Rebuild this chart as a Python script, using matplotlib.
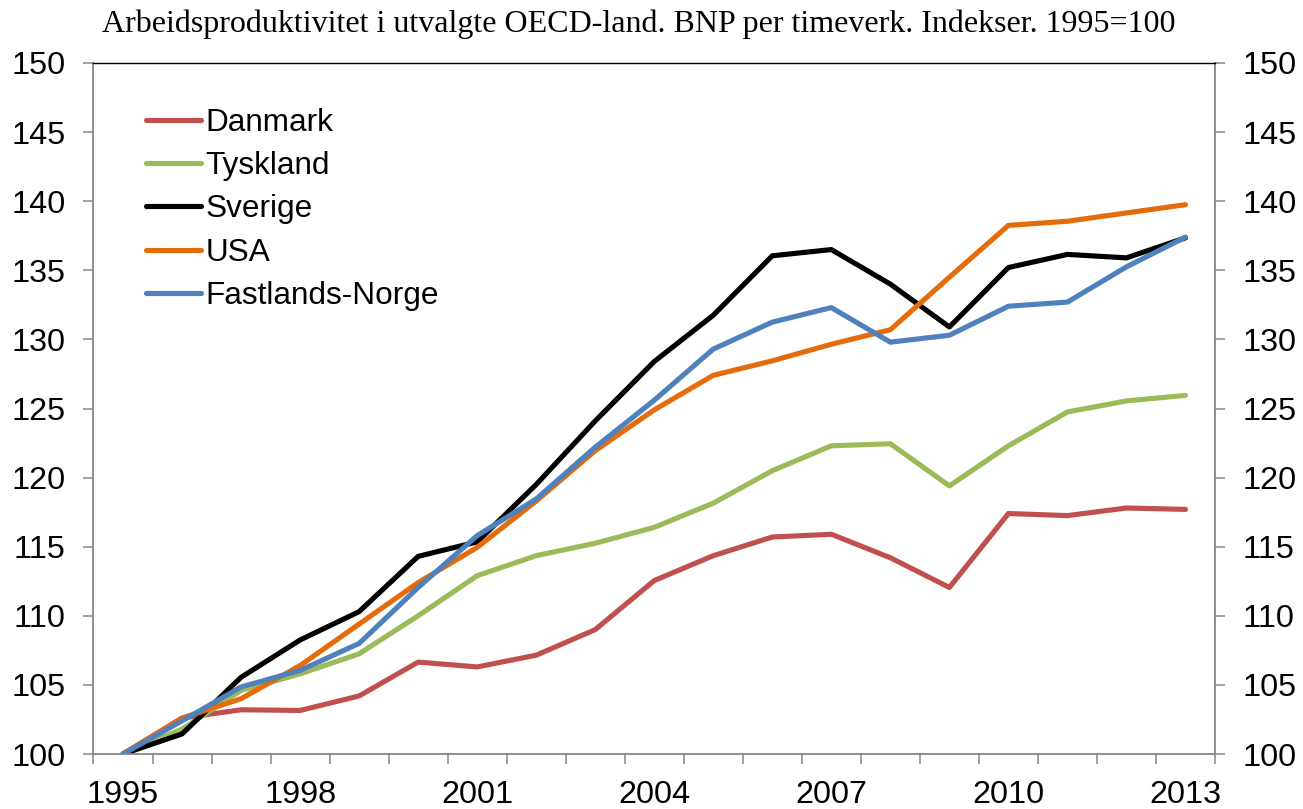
import numpy as np
import matplotlib
matplotlib.use('Agg')
import matplotlib.pyplot as plt
from matplotlib.ticker import FixedLocator

years = list(range(1995, 2014))
danmark = [100, 102.6, 103.2, 103.15, 104.2, 106.65, 106.3, 107.15, 109.0, 112.55,
           114.35, 115.7, 115.9, 114.2, 112.05, 117.4, 117.25, 117.8, 117.7]
tyskland = [100, 101.8, 104.6, 105.8, 107.25, 110.0, 112.9, 114.35, 115.25, 116.4,
            118.15, 120.5, 122.3, 122.45, 119.4, 122.3, 124.75, 125.55, 125.95]
sverige = [100, 101.45, 105.55, 108.25, 110.3, 114.3, 115.35, 119.5, 124.1, 128.4,
           131.75, 136.05, 136.5, 134.0, 130.9, 135.2, 136.15, 135.9, 137.35]
usa = [100, 102.6, 104.0, 106.4, 109.4, 112.4, 114.95, 118.3, 121.95, 124.9,
       127.4, 128.45, 129.65, 130.7, 134.5, 138.25, 138.55, 139.15, 139.75]
norge = [100, 102.4, 104.85, 106.05, 108.0, 112.05, 115.8, 118.45, 122.2, 125.6,
         129.3, 131.25, 132.3, 129.8, 130.3, 132.4, 132.7, 135.25, 137.4]

series = [('Danmark', danmark, '#C0504D'),
          ('Tyskland', tyskland, '#9BBB59'),
          ('Sverige', sverige, '#000000'),
          ('USA', usa, '#E46C0A'),
          ('Fastlands-Norge', norge, '#4F81BD')]

plt.rcParams['font.family'] = ['Liberation Sans', 'DejaVu Sans']

fig = plt.figure(figsize=(13.03, 8.09), dpi=100)
ax = fig.add_axes([93.5 / 1303, 1 - 754 / 809, (1215 - 93.5) / 1303, (754 - 63) / 809])

for name, vals, col in series:
    ax.plot(years, vals, color=col, lw=3.7, label=name, solid_capstyle='round')

ax.set_xlim(1994.5, 2013.5)
ax.set_ylim(100, 150)
ax.set_yticks(np.arange(100, 151, 5))
ax.set_xticks(years[::3])
ax.xaxis.set_minor_locator(FixedLocator(np.arange(1994.5, 2014, 1)))

gray = '#868686'
for s in ['left', 'right', 'bottom']:
    ax.spines[s].set_color(gray)
    ax.spines[s].set_linewidth(1.3)
ax.spines['top'].set_color('black')
ax.spines['top'].set_linewidth(1.0)

ax.tick_params(axis='y', which='major', direction='out', length=7, width=1.1, color=gray,
               labelsize=23.3, pad=13, right=True, labelright=True)
ax.tick_params(axis='x', which='major', length=0, labelsize=23.3, pad=19)
ax.tick_params(axis='x', which='minor', direction='out', length=7, width=1.1, color=gray)

ax.legend(loc='upper left', bbox_to_anchor=(0.047, 0.935), frameon=False, fontsize=22.7,
          handlelength=1.75, handletextpad=0.12, labelspacing=0.42, borderpad=0,
          borderaxespad=0)

fig.text(638.5 / 1303, 1 - 24 / 809,
         'Arbeidsproduktivitet i utvalgte OECD-land. BNP per timeverk. Indekser. 1995=100',
         ha='center', va='center', family='Liberation Serif', fontsize=23)

fig.savefig('out.png', dpi=100)
